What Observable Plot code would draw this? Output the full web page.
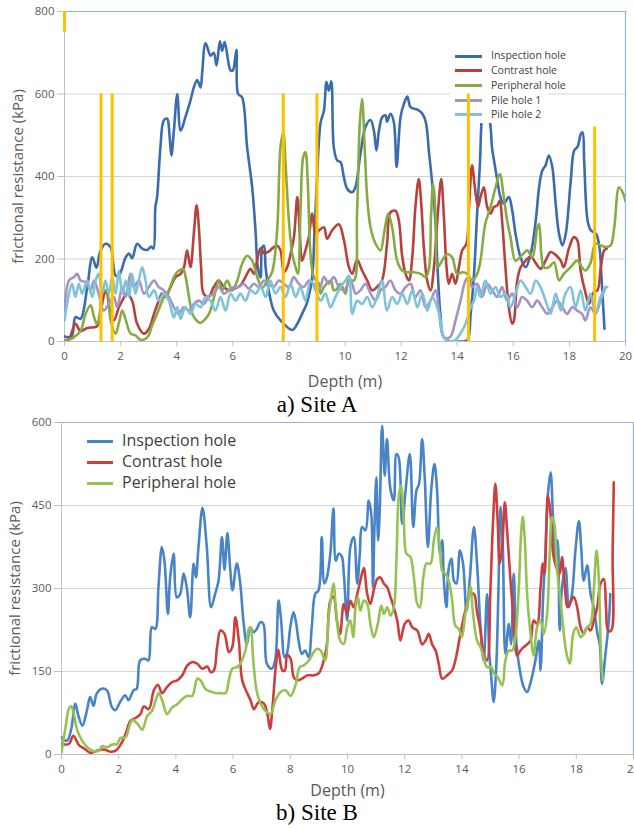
<!DOCTYPE html>
<html><head><meta charset="utf-8">
<script src="https://cdn.jsdelivr.net/npm/d3@7"></script>
<script src="https://cdn.jsdelivr.net/npm/@observablehq/plot@0.6"></script>
<style>
body{margin:0;background:#fff;}
#wrap{position:relative;width:634px;}
.panel{position:relative;}
.cap{height:26px;line-height:26px;text-align:center;font-family:"Liberation Serif","Times New Roman",serif;font-size:23px;color:#000;}
.leg{position:absolute;font-family:"Open Sans",sans-serif;color:#404040;}
.leg .sw{position:absolute;height:3px;}
.leg .tx{position:absolute;white-space:nowrap;}
.ovl{position:absolute;left:0;top:0;pointer-events:none;}
</style></head>
<body>
<div id="wrap">
  <div class="panel" id="pa" style="height:392px"></div>
  <div class="cap">a) Site A</div>
  <div class="panel" id="pb" style="height:382px"></div>
  <div class="cap">b) Site B</div>
</div>
<script>
// ---------- Site A data: [depth (m), frictional resistance (kPa)] ----------
const aInspection = [[0,12],[0.25,12],[0.39,59],[0.57,55],[0.81,131],[0.99,204],[1.14,179],[1.28,220],[1.46,237],[1.64,229],[1.82,160],[1.94,160],[2.18,204],[2.3,213],[2.41,202],[2.59,237],[2.77,225],[2.95,222],[3.09,230],[3.17,225],[3.24,326],[3.3,350],[3.42,471],[3.54,536],[3.66,540],[3.74,503],[3.81,451],[3.9,511],[4.02,599],[4.14,511],[4.31,544],[4.49,584],[4.61,616],[4.73,634],[4.85,616],[4.91,653],[5.03,723],[5.21,693],[5.32,700],[5.42,669],[5.54,728],[5.62,705],[5.71,726],[5.92,657],[6.0,657],[6.13,707],[6.19,600],[6.33,592],[6.51,471],[6.69,374],[6.81,269],[6.89,180],[6.99,155],[7.05,229],[7.11,232],[7.17,180],[7.28,124],[7.46,75],[7.7,51],[8.12,28],[8.3,43],[8.47,67],[8.65,95],[8.83,156],[8.91,261],[9.0,390],[9.13,530],[9.25,560],[9.34,629],[9.42,608],[9.51,631],[9.6,471],[9.72,439],[9.84,435],[9.96,398],[10.08,370],[10.26,362],[10.37,374],[10.55,455],[10.73,520],[10.91,537],[11.03,511],[11.12,463],[11.21,511],[11.33,544],[11.45,548],[11.5,533],[11.62,552],[11.74,532],[11.84,423],[11.98,544],[12.1,576],[12.22,594],[12.34,568],[12.58,562],[12.76,552],[12.88,532],[13.0,455],[13.11,382],[13.23,285],[13.31,164],[13.4,67],[13.52,10],[13.76,0],[14.12,0],[14.36,3],[14.48,67],[14.6,164],[14.71,310],[14.81,432],[14.89,552],[14.95,568],[15.05,575],[15.19,520],[15.24,471],[15.33,432],[15.43,391],[15.54,350],[15.66,334],[15.84,350],[15.96,318],[16.08,261],[16.26,204],[16.44,180],[16.62,212],[16.8,293],[16.92,374],[17.03,414],[17.15,427],[17.27,451],[17.39,423],[17.51,334],[17.63,261],[17.75,233],[17.87,261],[18.05,391],[18.17,463],[18.29,472],[18.41,503],[18.47,507],[18.53,432],[18.65,293],[18.77,269],[18.95,261],[19.07,229],[19.15,148],[19.25,31]];
const aContrast = [[0,2],[0.16,6],[0.39,43],[0.57,25],[0.81,33],[1.16,37],[1.28,64],[1.34,90],[1.46,124],[1.52,116],[1.64,67],[1.76,51],[1.94,83],[2.06,99],[2.23,116],[2.41,99],[2.59,43],[2.83,19],[3.01,31],[3.19,67],[3.36,99],[3.48,116],[3.6,108],[3.78,132],[3.96,156],[4.14,164],[4.26,180],[4.37,221],[4.49,180],[4.61,261],[4.71,330],[4.79,277],[4.87,180],[4.96,116],[5.14,108],[5.32,132],[5.5,148],[5.68,132],[5.86,124],[6.04,128],[6.27,136],[6.45,156],[6.63,176],[6.75,164],[6.87,198],[6.99,226],[7.11,214],[7.28,218],[7.46,229],[7.58,232],[7.7,221],[7.82,168],[7.94,180],[8.06,212],[8.18,253],[8.3,350],[8.39,261],[8.47,196],[8.59,221],[8.71,253],[8.83,310],[8.95,261],[9.07,269],[9.25,277],[9.36,249],[9.54,269],[9.78,284],[9.96,246],[10.14,180],[10.26,164],[10.43,198],[10.61,172],[10.79,148],[10.97,124],[11.14,132],[11.32,148],[11.5,237],[11.62,313],[11.8,317],[11.92,293],[12.04,206],[12.16,164],[12.28,148],[12.4,206],[12.51,326],[12.63,394],[12.72,332],[12.81,229],[12.93,148],[13.05,124],[13.17,180],[13.31,310],[13.43,394],[13.52,310],[13.62,180],[13.7,140],[13.82,164],[13.94,140],[14.06,180],[14.18,221],[14.33,237],[14.42,326],[14.53,427],[14.63,374],[14.74,326],[14.83,350],[14.95,374],[15.07,326],[15.19,310],[15.31,326],[15.43,330],[15.52,342],[15.6,293],[15.72,180],[15.84,83],[15.96,43],[16.02,50],[16.14,148],[16.26,180],[16.44,196],[16.62,206],[16.8,190],[16.97,176],[17.15,196],[17.33,217],[17.51,210],[17.69,196],[17.8,180],[17.98,225],[18.16,253],[18.28,246],[18.4,172],[18.58,116],[18.7,91],[18.88,121],[19.0,124],[19.12,180],[19.24,221],[19.33,225]];
const aPeripheral = [[0,0],[0.33,10],[0.57,25],[0.75,67],[0.93,88],[1.05,60],[1.16,42],[1.26,70],[1.34,119],[1.5,124],[1.64,53],[1.82,19],[1.94,45],[2.06,75],[2.18,53],[2.36,19],[2.53,15],[2.71,4],[2.95,10],[3.13,40],[3.3,67],[3.54,107],[3.72,124],[3.9,156],[4.08,172],[4.23,175],[4.32,156],[4.44,107],[4.56,67],[4.68,53],[4.85,45],[5.0,53],[5.15,67],[5.33,107],[5.5,148],[5.62,124],[5.8,148],[5.98,124],[6.16,148],[6.33,188],[6.51,208],[6.69,196],[6.87,156],[7.05,130],[7.23,148],[7.4,168],[7.58,269],[7.7,471],[7.8,507],[7.88,431],[8.0,293],[8.12,212],[8.24,180],[8.32,164],[8.41,310],[8.51,447],[8.59,459],[8.67,391],[8.77,212],[8.89,156],[9.07,140],[9.13,116],[9.25,132],[9.49,148],[9.6,124],[9.72,128],[9.84,140],[10.02,116],[10.14,150],[10.32,148],[10.43,310],[10.53,533],[10.61,588],[10.7,471],[10.79,350],[10.91,277],[11.09,237],[11.27,221],[11.39,261],[11.54,310],[11.68,277],[11.86,196],[12.04,172],[12.22,168],[12.46,168],[12.7,164],[12.88,156],[13.0,180],[13.07,310],[13.14,382],[13.23,310],[13.31,180],[13.46,196],[13.64,212],[13.82,204],[14.0,164],[14.18,168],[14.36,164],[14.53,148],[14.71,164],[14.83,196],[15.0,285],[15.19,326],[15.37,374],[15.52,406],[15.66,350],[15.78,293],[15.9,253],[16.08,196],[16.32,210],[16.5,221],[16.68,204],[16.86,277],[16.92,285],[17.0,212],[17.09,180],[17.27,180],[17.45,192],[17.63,148],[17.8,164],[18.04,180],[18.28,196],[18.45,180],[18.57,172],[18.75,190],[18.93,237],[19.11,233],[19.29,229],[19.47,233],[19.6,277],[19.77,374],[19.92,358],[20.0,340]];
const aPile1 = [[0,75],[0.16,148],[0.33,156],[0.45,164],[0.57,148],[0.75,144],[0.93,124],[1.05,148],[1.22,116],[1.4,75],[1.58,91],[1.76,108],[1.88,83],[2.06,132],[2.18,108],[2.35,164],[2.47,132],[2.65,148],[2.83,116],[3.01,132],[3.19,148],[3.36,132],[3.54,124],[3.72,108],[3.9,83],[4.07,67],[4.25,83],[4.43,75],[4.61,91],[4.79,99],[4.96,91],[5.14,108],[5.32,116],[5.5,132],[5.68,116],[5.86,124],[6.04,132],[6.22,132],[6.39,140],[6.57,128],[6.75,140],[6.93,132],[7.11,148],[7.28,140],[7.46,132],[7.64,148],[7.82,140],[8.0,132],[8.17,156],[8.35,140],[8.53,132],[8.71,148],[8.89,140],[9.07,124],[9.25,156],[9.42,140],[9.6,156],[9.78,132],[9.96,124],[10.2,148],[10.38,116],[10.55,124],[10.73,140],[10.91,116],[11.09,99],[11.27,124],[11.44,132],[11.62,148],[11.8,124],[11.98,116],[12.16,132],[12.34,140],[12.51,108],[12.69,124],[12.87,83],[13.05,99],[13.23,124],[13.35,75],[13.46,20],[13.58,8],[13.76,12],[13.94,51],[14.12,99],[14.3,148],[14.42,156],[14.53,132],[14.71,140],[14.89,108],[15.07,140],[15.25,124],[15.43,108],[15.6,132],[15.78,99],[15.96,116],[16.14,83],[16.31,108],[16.49,99],[16.67,83],[16.85,99],[17.03,83],[17.21,67],[17.39,83],[17.57,99],[17.75,83],[17.92,67],[18.1,83],[18.28,75],[18.45,67],[18.57,51],[18.75,83],[18.93,67],[19.11,99],[19.29,132]];
const aPile2 = [[0,51],[0.16,116],[0.27,140],[0.39,108],[0.51,140],[0.63,116],[0.81,148],[0.99,108],[1.11,148],[1.22,164],[1.34,116],[1.46,148],[1.58,116],[1.7,156],[1.82,116],[1.94,172],[2.06,116],[2.18,148],[2.3,108],[2.41,164],[2.53,116],[2.65,148],[2.77,180],[2.89,148],[3.01,108],[3.19,124],[3.36,99],[3.54,116],[3.72,99],[3.9,58],[4.02,83],[4.14,55],[4.31,83],[4.49,67],[4.67,91],[4.85,83],[5.03,108],[5.2,99],[5.38,75],[5.56,108],[5.74,75],[5.92,116],[6.1,99],[6.27,116],[6.45,99],[6.63,124],[6.81,116],[6.99,132],[7.17,108],[7.34,148],[7.52,116],[7.7,132],[7.88,108],[8.06,140],[8.24,108],[8.41,132],[8.59,99],[8.77,148],[8.95,124],[9.13,99],[9.3,116],[9.48,83],[9.66,108],[9.84,132],[10.02,148],[10.14,160],[10.26,67],[10.43,99],[10.61,91],[10.79,108],[10.97,83],[11.14,108],[11.32,148],[11.5,75],[11.68,108],[11.86,91],[12.04,116],[12.22,91],[12.4,124],[12.58,83],[12.76,116],[12.93,75],[13.11,108],[13.29,83],[13.4,51],[13.52,10],[13.7,0],[13.94,4],[14.12,20],[14.3,43],[14.48,83],[14.6,99],[14.71,132],[14.83,108],[15.0,148],[15.19,116],[15.37,132],[15.54,108],[15.72,116],[15.9,83],[16.08,116],[16.26,148],[16.44,132],[16.62,116],[16.8,148],[16.97,132],[17.15,99],[17.33,67],[17.51,116],[17.69,75],[17.86,116],[18.04,132],[18.22,83],[18.4,124],[18.57,75],[18.75,116],[18.93,67],[19.11,108],[19.29,132],[19.35,132]];
// yellow marker lines (Site A)
const aMarkerDepth  = [0, 1.3, 1.7, 7.8, 9.0, 14.4, 18.9];
const aMarkerBottom = [750, 0, 0, 0, 0, 0, 0];
const aMarkerTop    = [800, 600, 600, 600, 600, 600, 520];

// ---------- Site B data ----------
const bInspection = [[0,31],[0.19,25],[0.34,46],[0.48,92],[0.59,70],[0.73,52],[0.89,80],[1.0,104],[1.12,88],[1.23,110],[1.41,119],[1.59,116],[1.76,86],[1.88,80],[2.05,95],[2.23,107],[2.34,98],[2.52,116],[2.63,119],[2.75,170],[2.92,173],[3.04,170],[3.16,230],[3.28,227],[3.39,302],[3.51,375],[3.6,350],[3.72,254],[3.8,320],[3.92,363],[4.03,284],[4.15,290],[4.27,327],[4.38,302],[4.5,248],[4.62,345],[4.7,320],[4.79,375],[4.93,446],[5.08,375],[5.23,266],[5.37,290],[5.49,314],[5.61,393],[5.7,334],[5.8,400],[5.9,334],[5.98,297],[6.13,345],[6.25,309],[6.36,242],[6.48,199],[6.6,230],[6.71,221],[6.83,227],[6.95,239],[7.06,236],[7.18,164],[7.35,155],[7.47,170],[7.59,278],[7.68,242],[7.8,176],[7.88,182],[8.0,230],[8.11,257],[8.19,242],[8.29,206],[8.4,182],[8.52,188],[8.64,176],[8.75,230],[8.87,290],[8.99,297],[9.1,393],[9.19,309],[9.28,320],[9.4,363],[9.51,445],[9.59,350],[9.69,363],[9.8,358],[9.87,327],[9.99,242],[10.1,375],[10.22,393],[10.34,309],[10.43,363],[10.51,411],[10.63,405],[10.74,459],[10.83,435],[10.89,302],[10.94,405],[11.01,501],[11.07,387],[11.13,447],[11.21,594],[11.3,504],[11.38,570],[11.5,480],[11.62,459],[11.71,543],[11.79,537],[11.91,417],[12.03,477],[12.18,543],[12.3,411],[12.41,477],[12.5,489],[12.61,570],[12.7,501],[12.81,375],[12.93,480],[13.04,525],[13.13,480],[13.23,363],[13.31,387],[13.37,314],[13.46,266],[13.54,337],[13.64,354],[13.72,314],[13.81,309],[13.93,369],[14.04,345],[14.16,260],[14.28,320],[14.42,411],[14.53,345],[14.65,230],[14.76,170],[14.88,290],[14.96,182],[15.02,145],[15.11,95],[15.2,157],[15.28,302],[15.35,447],[15.43,375],[15.52,182],[15.64,236],[15.72,199],[15.81,327],[15.91,199],[16.05,145],[16.16,122],[16.28,113],[16.42,134],[16.57,170],[16.69,206],[16.75,152],[16.84,285],[16.92,363],[17.0,465],[17.1,510],[17.19,422],[17.27,350],[17.35,387],[17.42,224],[17.5,302],[17.62,337],[17.74,266],[17.85,290],[17.97,369],[18.09,422],[18.17,375],[18.26,314],[18.38,342],[18.5,290],[18.61,266],[18.73,221],[18.82,199],[18.9,128],[19.02,182],[19.14,242],[19.19,290]];
const bContrast = [[0,19],[0.26,19],[0.41,34],[0.61,17],[0.84,9],[1.01,3],[1.25,7],[1.48,9],[1.71,5],[1.89,7],[2.06,17],[2.24,37],[2.41,61],[2.59,66],[2.76,73],[2.88,87],[3.05,82],[3.23,116],[3.37,126],[3.52,111],[3.69,122],[3.87,131],[4.05,134],[4.22,143],[4.4,161],[4.57,167],[4.75,164],[4.92,155],[5.1,159],[5.21,149],[5.33,152],[5.44,194],[5.56,224],[5.7,218],[5.85,185],[5.97,194],[6.08,248],[6.2,206],[6.32,134],[6.5,110],[6.61,98],[6.73,82],[6.9,95],[7.08,92],[7.2,73],[7.29,46],[7.37,80],[7.49,158],[7.58,189],[7.72,152],[7.81,152],[7.89,180],[8.01,173],[8.12,140],[8.24,134],[8.41,137],[8.59,143],[8.82,143],[9.0,147],[9.17,170],[9.28,200],[9.4,278],[9.51,285],[9.63,242],[9.74,218],[9.87,272],[9.99,254],[10.1,278],[10.22,266],[10.34,290],[10.45,314],[10.57,337],[10.69,290],[10.8,272],[10.92,297],[11.04,317],[11.15,320],[11.27,309],[11.39,302],[11.5,285],[11.62,266],[11.74,242],[11.85,206],[12.0,236],[12.14,242],[12.26,230],[12.44,224],[12.61,199],[12.73,206],[12.84,218],[12.96,199],[13.08,188],[13.19,164],[13.31,137],[13.48,143],[13.66,152],[13.77,170],[13.95,218],[14.12,260],[14.3,290],[14.42,290],[14.53,257],[14.65,224],[14.76,182],[14.88,170],[15.0,302],[15.09,422],[15.17,489],[15.25,422],[15.32,345],[15.41,375],[15.5,456],[15.58,405],[15.7,314],[15.79,254],[15.87,194],[15.93,179],[16.05,188],[16.16,194],[16.28,199],[16.4,206],[16.51,242],[16.63,236],[16.75,302],[16.83,345],[16.89,327],[16.96,422],[17.01,468],[17.1,435],[17.19,363],[17.31,337],[17.42,327],[17.5,357],[17.58,314],[17.7,266],[17.82,278],[17.91,285],[18.03,266],[18.15,230],[18.26,218],[18.38,230],[18.5,224],[18.61,242],[18.73,266],[18.85,309],[18.96,317],[19.04,266],[19.11,224],[19.22,224],[19.27,363],[19.31,492]];
const bPeripheral = [[0,4],[0.14,49],[0.26,83],[0.34,87],[0.43,73],[0.55,44],[0.72,25],[0.9,13],[1.13,6],[1.31,7],[1.42,15],[1.6,13],[1.77,18],[1.95,19],[2.06,30],[2.24,31],[2.36,49],[2.47,62],[2.65,56],[2.82,45],[3.0,70],[3.17,79],[3.29,98],[3.4,111],[3.52,98],[3.69,73],[3.87,85],[4.05,91],[4.22,100],[4.4,106],[4.57,106],[4.75,137],[4.86,134],[5.04,118],[5.21,114],[5.39,111],[5.56,111],[5.74,111],[5.85,134],[5.97,155],[6.14,158],[6.28,167],[6.43,188],[6.55,227],[6.61,230],[6.7,173],[6.82,116],[6.96,92],[7.13,79],[7.31,73],[7.48,98],[7.66,113],[7.83,116],[8.01,106],[8.18,125],[8.33,158],[8.47,161],[8.65,170],[8.82,185],[8.94,191],[9.06,188],[9.22,170],[9.33,242],[9.43,285],[9.51,309],[9.6,260],[9.74,206],[9.87,200],[9.99,230],[10.1,242],[10.2,212],[10.28,266],[10.36,285],[10.45,260],[10.57,278],[10.69,272],[10.8,236],[10.92,212],[11.06,236],[11.18,269],[11.27,254],[11.39,266],[11.5,251],[11.62,266],[11.71,350],[11.79,465],[11.87,486],[11.97,422],[12.06,363],[12.2,357],[12.32,320],[12.44,272],[12.53,266],[12.65,320],[12.76,345],[12.9,345],[13.02,387],[13.13,411],[13.23,375],[13.31,332],[13.42,327],[13.54,314],[13.66,278],[13.77,233],[13.89,227],[14.0,212],[14.12,254],[14.24,285],[14.3,304],[14.39,254],[14.53,206],[14.65,194],[14.76,176],[14.88,158],[15.02,158],[15.14,145],[15.25,140],[15.41,125],[15.52,170],[15.64,188],[15.76,188],[15.87,212],[15.99,302],[16.07,399],[16.13,429],[16.2,387],[16.28,290],[16.4,218],[16.51,179],[16.63,230],[16.75,242],[16.86,218],[16.98,254],[17.07,363],[17.15,429],[17.23,417],[17.33,332],[17.45,278],[17.54,230],[17.66,182],[17.77,164],[17.89,218],[18.0,230],[18.15,212],[18.26,218],[18.38,230],[18.5,236],[18.61,297],[18.71,369],[18.79,314],[18.87,170],[18.93,134]];

// ---------- labels, ticks ----------
const xTicks = [0,2,4,6,8,10,12,14,16,18,20];
const yTicksA = [0,200,400,600,800];
const yTicksB = [0,150,300,450,600];
const namesA = ["Inspection hole","Contrast hole","Peripheral hole","Pile hole 1","Pile hole 2"];
const namesB = ["Inspection hole","Contrast hole","Peripheral hole"];
const colorsA = ["#3a6cae","#b8413e","#86ab43","#a394c4","#7fc3da"];
const colorsB = ["#4884c6","#cc3f3f","#96c253"];
const xTitle = "Depth (m)";
const yTitle = "frictional resistance (kPa)";

const seriesA = [aInspection, aContrast, aPeripheral, aPile1, aPile2];
const seriesB = [bInspection, bContrast, bPeripheral];

function chart(o){
  const gridVals = o.yTicks.slice(1, -1);
  return Plot.plot({
    width: 634, height: o.height,
    marginTop: o.mt, marginBottom: o.mb, marginLeft: o.ml, marginRight: o.mr,
    x: {domain: [0, 20], label: null},
    y: {domain: [o.yTicks[0], o.yTicks[o.yTicks.length-1]], label: null},
    style: {fontFamily: "'Open Sans', sans-serif", fontSize: "11.5px", color: "#595959", background: "transparent", overflow: "visible"},
    marks: [
      Plot.gridY(gridVals, {stroke: "#d4d4d4", strokeOpacity: 1}),
      Plot.ruleY([o.yTicks[o.yTicks.length-1]], {stroke: "#95b3d7", strokeWidth: 1.2}),
      Plot.ruleX([20], {stroke: "#95b3d7", strokeWidth: 1.2}),
      Plot.ruleX([0], {stroke: "#bfbfbf"}),
      Plot.ruleY([0], {stroke: "#bfbfbf"}),
      Plot.axisX({ticks: xTicks, tickSize: 5, tickPadding: 5, stroke: "#bfbfbf", label: null}),
      Plot.axisY({ticks: o.yTicks, tickSize: 7, tickPadding: 3, stroke: "#bfbfbf", label: null}),
      ...o.series.map((s, i) => Plot.line(s, {x: d => d[0], y: d => d[1], stroke: o.colors[i], strokeWidth: 2.6, curve: "catmull-rom", clip: true})),
      Plot.text([xTitle], {frameAnchor: "bottom", textAnchor: "middle", lineAnchor: "middle", dy: o.xTitleDy, fontSize: 16, fill: "#595959"}),
      Plot.text([yTitle], {frameAnchor: "left", textAnchor: "middle", lineAnchor: "middle", dx: o.yTitleDx, rotate: -90, fontSize: 15, fill: "#595959"})
    ]
  });
}

function legend(names, colors, o){
  const box = document.createElement("div");
  box.className = "leg";
  Object.assign(box.style, {left: o.left+"px", top: o.top+"px", width: o.w+"px", height: o.h+"px", background: o.bg, fontSize: o.fs+"px"});
  names.forEach((n, i) => {
    const y = o.padTop + i*o.step;
    const sw = document.createElement("div");
    sw.className = "sw";
    Object.assign(sw.style, {left: o.swL+"px", width: o.swW+"px", top: (y-1.5)+"px", background: colors[i]});
    const tx = document.createElement("div");
    tx.className = "tx";
    tx.textContent = n;
    Object.assign(tx.style, {left: o.txL+"px", top: (y - o.fs*0.72)+"px", lineHeight: (o.fs*1.4)+"px"});
    box.appendChild(sw); box.appendChild(tx);
  });
  return box;
}

// Panel A
const pa = document.getElementById("pa");
pa.appendChild(chart({height: 392, mt: 11, mb: 51, ml: 64, mr: 9, yTicks: yTicksA, series: seriesA, colors: colorsA, xTitleDy: 40, yTitleDx: -46}));
pa.appendChild(legend(namesA, colorsA, {left: 450, top: 47, w: 98, h: 76, bg: "#fff", fs: 10.5, padTop: 9, step: 14.7, swL: 5, swW: 27, txL: 41}));
const ov = Plot.plot({
  width: 634, height: 392, marginTop: 11, marginBottom: 51, marginLeft: 64, marginRight: 9,
  x: {domain: [0, 20], axis: null}, y: {domain: [0, 800], axis: null},
  style: {background: "transparent"},
  marks: [Plot.ruleX(aMarkerDepth, {x: d => d, y1: (d, i) => aMarkerBottom[i], y2: (d, i) => aMarkerTop[i], stroke: "#ffc000", strokeWidth: 3})]
});
ov.classList.add("ovl");
pa.appendChild(ov);

// Panel B
const pb = document.getElementById("pb");
pb.appendChild(chart({height: 382, mt: 4, mb: 46, ml: 61, mr: 1, yTicks: yTicksB, series: seriesB, colors: colorsB, xTitleDy: 36, yTitleDx: -46}));
pb.appendChild(legend(namesB, colorsB, {left: 80, top: 12, w: 180, h: 70, bg: "transparent", fs: 16, padTop: 11, step: 21, swL: 7, swW: 26, txL: 42}));
</script>
</body></html>
